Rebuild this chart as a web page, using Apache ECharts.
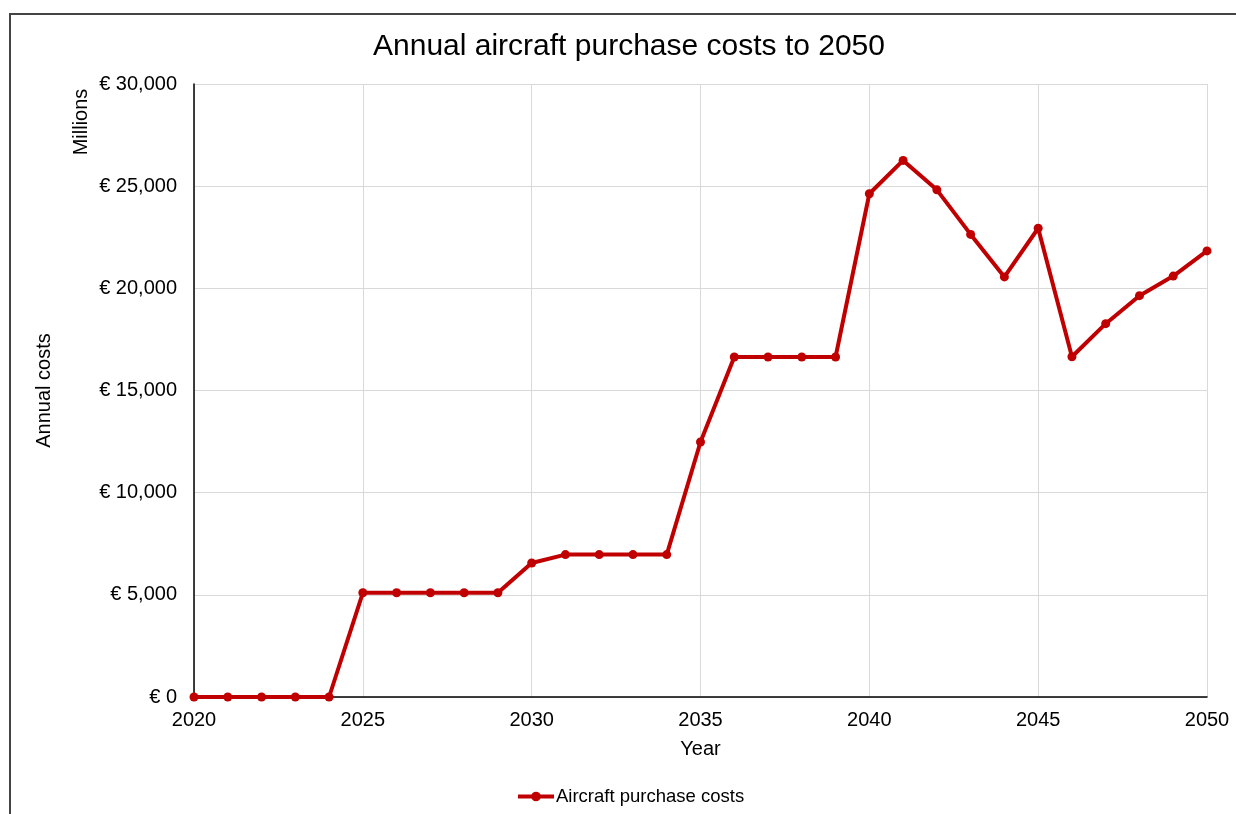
<!DOCTYPE html>
<html>
<head>
<meta charset="utf-8">
<style>
  html, body { margin: 0; padding: 0; background: #ffffff; }
  #chart { width: 1236px; height: 814px; }
</style>
<script src="https://cdn.jsdelivr.net/npm/echarts@6/dist/echarts.min.js"></script>
</head>
<body>
<div id="chart"></div>
<script>
// Years on the horizontal axis
const years = [];
for (let y = 2020; y <= 2050; y++) years.push(String(y));

// Annual aircraft purchase costs, millions of euro
const purchaseCosts = [
  0, 0, 0, 0, 0,
  5100, 5100, 5100, 5100, 5100,
  6560, 6970, 6970, 6970, 6970,
  12480, 16640, 16640, 16640, 16640,
  24630, 26260, 24820, 22640, 20560,
  22940, 16650, 18270, 19640, 20600,
  21830
];

const seriesName = 'Aircraft purchase costs';
const titleText = 'Annual aircraft purchase costs to 2050';
const FONT = '"Liberation Sans", Arial, sans-serif';

const chart = echarts.init(document.getElementById('chart'), null, { renderer: 'canvas' });

function euro(v) {
  return '€ ' + v.toLocaleString('en-US');
}

chart.setOption({
  backgroundColor: '#ffffff',
  animation: false,
  title: {
    text: titleText,
    left: 624,
    top: 27,
    textAlign: 'center',
    textStyle: { fontFamily: FONT, fontSize: 30, fontWeight: 'normal', color: '#000000' }
  },
  graphic: [
    {
      type: 'rect',
      shape: { x: 10, y: 14, width: 1400, height: 1000 },
      style: { fill: 'none', stroke: '#444444', lineWidth: 2 },
      silent: true
    },
    {
      type: 'text',
      x: 81,
      y: 122,
      rotation: Math.PI / 2,
      style: {
        text: 'Millions',
        fontFamily: FONT,
        fontSize: 20,
        fill: '#000000',
        align: 'center',
        verticalAlign: 'middle'
      }
    }
  ],
  legend: {
    data: [seriesName],
    left: 511,
    top: 782,
    itemWidth: 36,
    itemHeight: 12,
    itemGap: 4,
    lineStyle: { width: 4 },
    textStyle: { fontFamily: FONT, fontSize: 18.5, color: '#000000', padding: [0, 0, 0, -3] }
  },
  grid: { left: 194, top: 84, width: 1013, height: 613, containLabel: false },
  xAxis: {
    type: 'category',
    data: years,
    boundaryGap: false,
    name: 'Year',
    nameLocation: 'middle',
    nameGap: 42,
    nameTextStyle: { fontFamily: FONT, fontSize: 20, color: '#000000' },
    axisLine: { show: true, lineStyle: { color: '#000000', width: 1.5 } },
    axisTick: { show: false },
    axisLabel: { interval: 4, fontFamily: FONT, fontSize: 20, color: '#000000', margin: 13 },
    splitLine: { show: true, interval: 4, lineStyle: { color: '#d9d9d9', width: 1 } }
  },
  yAxis: {
    type: 'value',
    min: 0,
    max: 30000,
    interval: 5000,
    name: 'Annual costs',
    nameLocation: 'middle',
    nameGap: 140,
    nameRotate: 90,
    nameTextStyle: { fontFamily: FONT, fontSize: 20, color: '#000000' },
    axisLine: { show: true, lineStyle: { color: '#000000', width: 1.5 } },
    axisTick: { show: false },
    axisLabel: { fontFamily: FONT, fontSize: 20, color: '#000000', margin: 17, formatter: euro },
    splitLine: { show: true, lineStyle: { color: '#d9d9d9', width: 1 } }
  },
  series: [
    {
      name: seriesName,
      type: 'line',
      data: purchaseCosts,
      color: '#c00000',
      symbol: 'circle',
      symbolSize: 9,
      lineStyle: { width: 4, color: '#c00000' },
      itemStyle: { color: '#c00000' }
    }
  ]
});
</script>
</body>
</html>
